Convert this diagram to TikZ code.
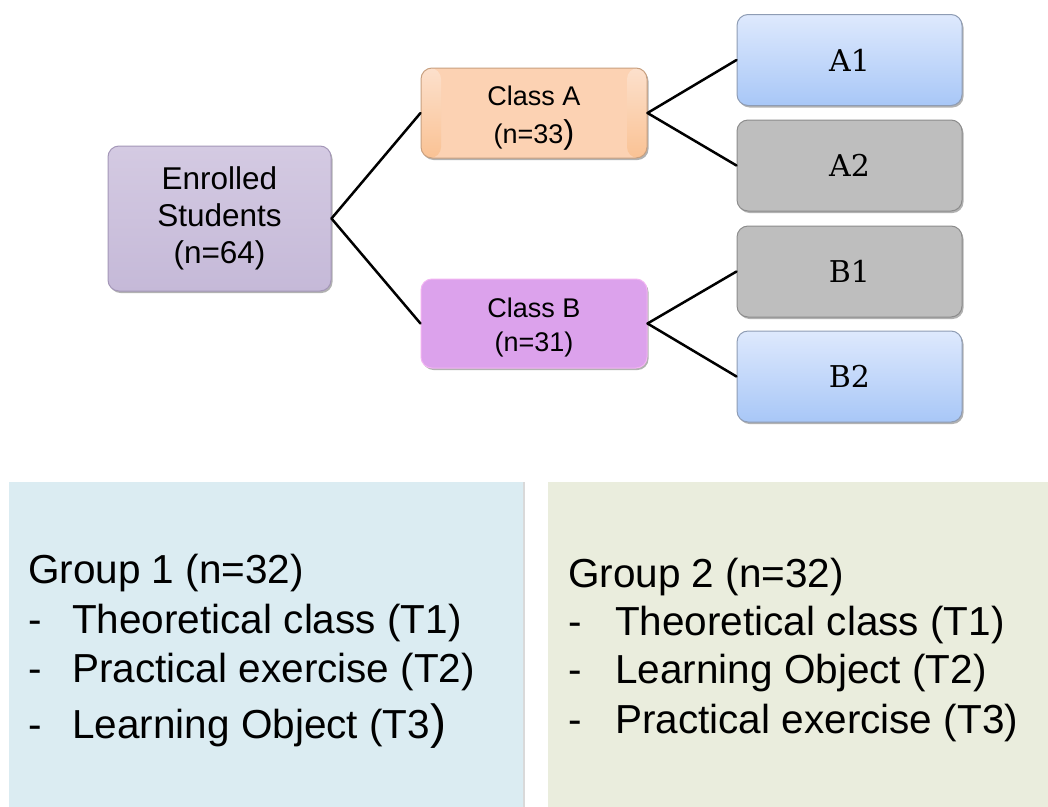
\documentclass[tikz,border=0pt]{standalone}
\usepackage{fontspec}
\setmainfont{Liberation Sans}
\newfontfamily\boxserif{DejaVu Serif}
\usetikzlibrary{shadows}
\definecolor{enrtop}{HTML}{D4CAE2}
\definecolor{enrbot}{HTML}{C5B9D8}
\definecolor{enrdraw}{HTML}{A497B8}
\definecolor{catop}{HTML}{FCE0CC}
\definecolor{cabot}{HTML}{FAC294}
\definecolor{camid}{HTML}{FCD2B3}
\definecolor{cadraw}{HTML}{C8A080}
\definecolor{cbfill}{HTML}{DCA2EC}
\definecolor{cbdraw}{HTML}{F2B4F2}
\definecolor{bluetop}{HTML}{DEE9FD}
\definecolor{bluebot}{HTML}{A8C7F7}
\definecolor{bluedraw}{HTML}{8E9CB4}
\definecolor{grayfill}{HTML}{BEBEBE}
\definecolor{graydraw}{HTML}{8C8C8C}
\definecolor{gonefill}{HTML}{DBECF2}
\definecolor{gtwofill}{HTML}{EAEDDD}
\begin{document}
\begin{tikzpicture}[x=1pt,y=-1pt,
  rbox/.style={rounded corners=11pt, draw, line width=1pt, align=center, inner sep=0pt,
    drop shadow={shadow xshift=1.5pt, shadow yshift=-2pt, opacity=0.3, fill=black}},
  leafbox/.style={rbox, minimum width=225pt, minimum height=91pt, font=\boxserif\fontsize{30}{32}\selectfont},
  classbox/.style={rbox, minimum width=226pt, minimum height=90pt},
  classtext/.style={align=center, inner sep=0pt, font=\fontsize{27}{38}\selectfont},
  bluebox/.style={leafbox, top color=bluetop, bottom color=bluebot, draw=bluedraw},
  graybox/.style={leafbox, fill=grayfill, draw=graydraw},
  conn/.style={line width=2.5pt, line cap=round},
  groupbox/.style={draw=none, inner sep=0pt,
    drop shadow={shadow xshift=2pt, shadow yshift=0pt, opacity=0.15, fill=black}},
  gtext/.style={anchor=base west, inner sep=0pt, font=\fontsize{40.5}{45}\selectfont}
]
\useasboundingbox (0,0) rectangle (1048,806);
\fill[white] (0,0) rectangle (1048,806);

% main tree
\node[rbox, minimum width=223pt, minimum height=145pt, top color=enrtop, bottom color=enrbot,
  draw=enrdraw, font=\fontsize{31.5}{37}\selectfont] (enr) at (219.5,218.5) {Enrolled\\Students\\(n=64)};
\node[classbox, fill=camid, draw=cadraw,
  path picture={
    \shade[top color=catop, bottom color=cabot] (path picture bounding box.north west) rectangle ([xshift=20pt]path picture bounding box.south west);
    \shade[top color=catop, bottom color=cabot] (path picture bounding box.north east) rectangle ([xshift=-20pt]path picture bounding box.south east);
  }] (ca) at (534,113) {};
\node[classtext] (catext) at (534,118) {Class A\\(n=33{\fontsize{33}{33}\selectfont)}};
\node[classbox, minimum height=89pt, fill=cbfill, draw=cbdraw] (cb) at (534,323.5) {};
\node[classtext, font=\fontsize{27}{34}\selectfont] (cbtext) at (534,328) {Class B\\(n=31)};
\node[bluebox] (a1) at (849.5,60) {A1};
\node[graybox] (a2) at (849.5,165.5) {A2};
\node[graybox] (b1) at (849.5,271.5) {B1};
\node[bluebox] (b2) at (849.5,376.5) {B2};

\draw[conn] (enr.east) -- (ca.west);
\draw[conn] (enr.east) -- (cb.west);
\draw[conn] (ca.east) -- (a1.west);
\draw[conn] (ca.east) -- (a2.west);
\draw[conn] (cb.east) -- (b1.west);
\draw[conn] (cb.east) -- (b2.west);

% group boxes
\node[groupbox, fill=gonefill, minimum width=514pt, minimum height=330pt] (g1) at (266,647) {};
\node[groupbox, fill=gtwofill, minimum width=506pt, minimum height=330pt] (g2) at (801,647) {};

\node[gtext] (g1t0) at (28,583) {Group 1 (n=32)};
\node[gtext] (g1t1) at (28,633) {\makebox[44pt][l]{-}Theoretical class (T1)};
\node[gtext] (g1t2) at (28,682) {\makebox[44pt][l]{-}Practical exercise (T2)};
\node[gtext] (g1t3) at (28,738) {\makebox[44pt][l]{-}Learning Object (T3{\fontsize{48}{48}\selectfont)}};

\node[gtext] (g2t0) at (568,587) {Group 2 (n=32)};
\node[gtext] (g2t1) at (568,635) {\makebox[47pt][l]{-}Theoretical class (T1)};
\node[gtext] (g2t2) at (568,683) {\makebox[47pt][l]{-}Learning Object (T2)};
\node[gtext] (g2t3) at (568,733) {\makebox[47pt][l]{-}Practical exercise (T3)};
\end{tikzpicture}
\end{document}
